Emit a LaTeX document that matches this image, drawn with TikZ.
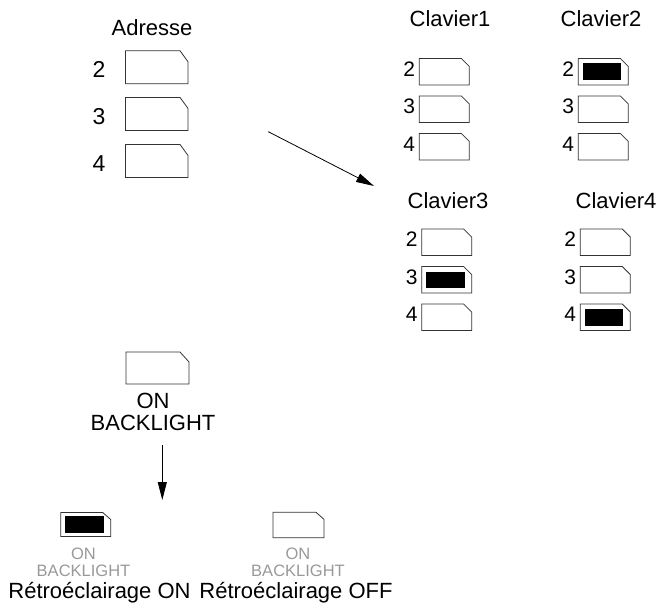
\documentclass[tikz,border=0pt]{standalone}
\usepackage{fontspec}
\setmainfont{Liberation Sans}
\usetikzlibrary{arrows.meta}

\tikzset{
  switchbox/.style={rectangle,inner sep=0pt,outer sep=0pt},
  bigswitch/.style={switchbox,minimum width=62.5pt,minimum height=33pt},
  smallswitch/.style={switchbox,minimum width=50pt,minimum height=26.5pt},
  switchline/.style={draw=black!80,line width=0.8pt,line join=miter},
  title/.style={font=\fontsize{22}{24}\selectfont,anchor=base,inner sep=0pt},
  bignum/.style={font=\fontsize{23}{25}\selectfont,anchor=base,inner sep=0pt},
  smallnum/.style={font=\fontsize{21}{23}\selectfont,anchor=base,inner sep=0pt},
  greytext/.style={font=\fontsize{16.5}{17.3}\selectfont,text=black!40,align=center,inner sep=0pt},
  pointer/.style={-{Triangle[length=18pt,width=9pt]},line width=0.8pt}
}

% outline of a switch: node name, cut in x, cut in y
\newcommand{\switchshape}[3]{%
  \draw[switchline] (#1.south west) -- (#1.north west) -- ([xshift=-#2]#1.north east)
    -- ([yshift=-#3]#1.north east) -- (#1.south east) -- cycle;}
% black fill of a switch that is on
\newcommand{\switchon}[2][5pt]{%
  \fill ([shift={(4.5pt,-#1)}]#2.north west) rectangle ([shift={(-7pt,#1)}]#2.south east);}

\begin{document}
\begin{tikzpicture}[x=1pt,y=-1pt]
  \useasboundingbox (0,0) rectangle (658,615);

  % Adresse
  \node[title] (adrtitle) at (152,36) {Adresse};
  \foreach \n/\yy in {2/67.3,3/114,4/161}{
    \node[bigswitch] (adr\n) at (156.8,\yy) {};
    \switchshape{adr\n}{8pt}{11pt}
    \node[bignum] (adrnum\n) at (99,\yy+10.4) {\n};
  }

  % Claviers
  \foreach \k/\xx/\yy/\tx/\ty/\lit in {1/444.3/71.7/450/26.7/0,2/603.3/71.7/601/26.7/2,
                                       3/446.7/242.3/448/208.3/3,4/605.3/242.3/616/208.3/4}{
    \node[title] (clav\k) at (\tx,\ty) {Clavier\k};
    \foreach \n [count=\i from 0] in {2,3,4}{
      \node[smallswitch] (sw\k\n) at (\xx,\yy+37.5*\i) {};
      \switchshape{sw\k\n}{8pt}{8pt}
      \ifnum\n=\lit \switchon{sw\k\n}\fi
      \node[smallnum] (num\k\n) at ([xshift=-10pt,yshift=-4.5pt]sw\k\n.west) {\n};
    }
  }

  \coordinate (arrAstart) at (268.3,131.7);
  \coordinate (arrAend) at (374,186);
  \draw[pointer] (arrAstart) -- (arrAend);

  % backlight
  \node[bigswitch,minimum width=63pt,minimum height=32pt] (blbox) at (157.5,368) {};
  \switchshape{blbox}{9pt}{10pt}
  \node[font=\fontsize{22}{22.4}\selectfont,align=center,inner sep=0pt] (bllabel) at (153,412) {ON\\BACKLIGHT};

  \coordinate (arrBstart) at (162.3,445);
  \coordinate (arrBend) at (162.3,500);
  \draw[pointer] (arrBstart) -- (arrBend);

  \node[smallswitch,minimum height=24pt] (onbox) at (85.7,524.5) {};
  \switchshape{onbox}{8pt}{7pt}
  \switchon[3.5pt]{onbox}
  \node[greytext] (ontext) at (83.5,562) {ON\\BACKLIGHT};
  \node[title] (oncaption) at (99.5,598.3) {Rétroéclairage ON};

  \node[smallswitch,minimum width=51pt,minimum height=25.5pt] (offbox) at (298.4,525) {};
  \switchshape{offbox}{8pt}{7pt}
  \node[greytext] (offtext) at (298,562) {ON\\BACKLIGHT};
  \node[title] (offcaption) at (296,598.3) {Rétroéclairage OFF};
\end{tikzpicture}
\end{document}
